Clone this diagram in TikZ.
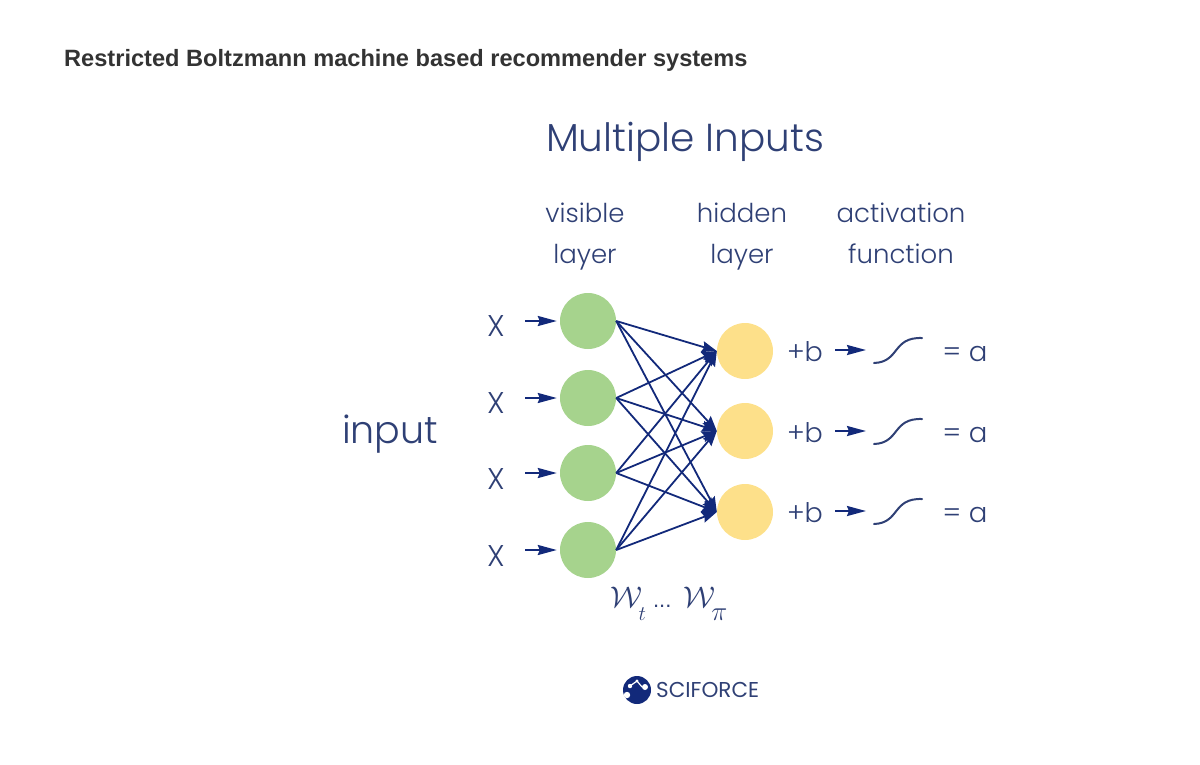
\documentclass[tikz,border=0pt]{standalone}
\usepackage{fontspec}
\setmainfont{Liberation Sans}
\newfontfamily\geo{Poppins Light}
\newfontfamily\geomed{Poppins}
\usetikzlibrary{arrows.meta}
\definecolor{inkblue}{HTML}{2F4075}
\definecolor{arrowblue}{HTML}{12297A}
\definecolor{leaf}{HTML}{A6D38D}
\definecolor{sun}{HTML}{FDE08A}
\definecolor{titlegray}{HTML}{333333}
\tikzset{
  lab/.style={anchor=base,inner sep=0pt,text=inkblue,font=\geo\fontsize{#1}{#1}\selectfont},
  gnode/.style={circle,fill=leaf,minimum size=56pt,inner sep=0pt},
  ynode/.style={circle,fill=sun,minimum size=56pt,inner sep=0pt},
  edge/.style={draw=arrowblue,line width=1.8pt,-{Stealth[length=15pt,width=11pt,inset=2pt]}},
  feed/.style={draw=arrowblue,line width=2.2pt,shorten >=3pt,-{Stealth[length=19pt,width=10pt,inset=2pt]}},
  sig/.style={draw=inkblue,line width=2pt,line cap=round},
}
\begin{document}
\begin{tikzpicture}[x=1pt,y=-1pt]
\useasboundingbox (0,0) rectangle (1200,764);
\node[anchor=base west,inner sep=0pt,text=titlegray,font=\bfseries\fontsize{23.6}{23.6}\selectfont] (title) at (64,66) {Restricted Boltzmann machine based recommender systems};
\node[lab=39] (head) at (685,151) {Multiple Inputs};
\node[lab=26] (v1) at (585,222) {visible};
\node[lab=26] (v2) at (585,263) {layer};
\node[lab=26] (h1) at (742,222) {hidden};
\node[lab=26] (h2) at (742,263) {layer};
\node[lab=26] (a1) at (901,222) {activation};
\node[lab=26] (a2) at (901,263) {function};
\node[lab=38] (input) at (390,443) {input};
\foreach \i/\y/\b in {1/321/336,2/398/413,3/473/489,4/550/566}{
  \node[gnode] (g\i) at (588,\y) {};
  \node[lab=30] (x\i) at (496,\b) {X};
  \coordinate (xe\i) at (525,\y);
  \draw[feed] (xe\i) -- (g\i.west);
}
\foreach \j/\y in {1/351,2/431,3/512}{
  \node[ynode] (y\j) at (745,\y) {};
}
\foreach \i in {1,2,3,4}{
  \foreach \j in {1,2,3}{
    \draw[edge] (g\i.east) -- (y\j.west);
  }
}
\foreach \j/\y/\b in {1/350/361,2/431/442,3/511/522}{
  \node[lab=27] (b\j) at (805,\b) {+b};
  \coordinate (fa\j) at (835,\y);
  \coordinate (fb\j) at (869,\y);
  \draw[feed] (fa\j) -- (fb\j);
  \coordinate (s\j) at (874,\y+13);
  \coordinate (e\j) at (922,\y-12);
  \draw[sig] (s\j) .. controls (900,\y+12) and (892,\y-13) .. (e\j);
  \node[lab=27.5] (r\j) at (965,\b) {= a};
}
\node[anchor=base,inner sep=0pt,text=inkblue,font=\fontsize{32}{32}\selectfont] (w) at (669,607) {\scalebox{1.2}{$\mathcal{W}$}\kern-4pt\lower13pt\hbox{$\scriptstyle t$}\kern7pt{\fontsize{22}{22}\selectfont ...}\kern12pt\scalebox{1.2}{$\mathcal{W}$}\kern-4pt\lower13pt\hbox{\scalebox{1.3}{$\scriptstyle \pi$}}};
\node[circle,fill=arrowblue,minimum size=28pt,inner sep=0pt] (logo) at (637,690) {};
\draw[white,line width=1.2pt] (630,686) -- (637,681) -- (642,687);
\fill[white] (630,686) circle (2.2) (637,681) circle (1.6) (645,687) circle (3);
\fill[white] (627,695) circle (3.2);
\node[anchor=base west,inner sep=0pt,text=inkblue,font=\geomed\fontsize{21.5}{21.5}\selectfont] (brand) at (656,697) {SCIFORCE};
\end{tikzpicture}
\end{document}
